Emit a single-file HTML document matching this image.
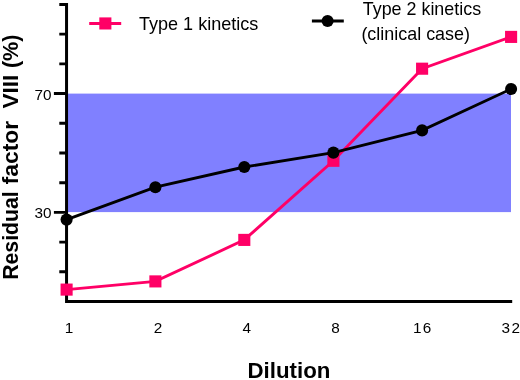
<!DOCTYPE html><html><head><meta charset="utf-8"><title>Chart</title><style>html,body{margin:0;padding:0;background:#fff}svg{display:block}text{font-family:"Liberation Sans",sans-serif;fill:#000}</style></head><body>
<svg width="520" height="380" viewBox="0 0 520 380">
<rect width="520" height="380" fill="#fff"/>
<rect x="66.5" y="93.6" width="444.5" height="118.5" fill="#8080ff"/>
<path d="M66.55 3 V303 M65.05 301.5 H512.2" stroke="#000" stroke-width="3" fill="none"/>
<path d="M59.3 271.80 H66 M59.3 242.09 H66 M53.9 212.38 H66 M59.3 182.68 H66 M59.3 152.97 H66 M59.3 123.27 H66 M53.9 93.56 H66 M59.3 63.86 H66 M59.3 34.16 H66 M59.3 4.45 H66 " stroke="#000" stroke-width="2.9" fill="none"/>
<polyline points="66.6,289.6 155.4,281.4 244.3,239.9 333.4,160.8 422.1,68.7 511.1,36.9" stroke="#ff0066" stroke-width="2.9" fill="none"/>
<rect x="60.55" y="283.55" width="12.1" height="12.1" fill="#ff0066"/>
<rect x="149.35" y="275.35" width="12.1" height="12.1" fill="#ff0066"/>
<rect x="238.25" y="233.85" width="12.1" height="12.1" fill="#ff0066"/>
<rect x="327.35" y="154.75" width="12.1" height="12.1" fill="#ff0066"/>
<rect x="416.05" y="62.65" width="12.1" height="12.1" fill="#ff0066"/>
<rect x="505.05" y="30.85" width="12.1" height="12.1" fill="#ff0066"/>
<polyline points="66.6,219.6 155.4,187.2 244.3,167.0 333.4,152.6 422.1,130.4 511.1,89.0" stroke="#000" stroke-width="2.9" fill="none"/>
<circle cx="66.6" cy="219.6" r="6.05" fill="#000"/>
<circle cx="155.4" cy="187.2" r="6.05" fill="#000"/>
<circle cx="244.3" cy="167.0" r="6.05" fill="#000"/>
<circle cx="333.4" cy="152.6" r="6.05" fill="#000"/>
<circle cx="422.1" cy="130.4" r="6.05" fill="#000"/>
<circle cx="511.1" cy="89.0" r="6.05" fill="#000"/>
<path d="M89.2 23.4 H121.2" stroke="#ff0066" stroke-width="3"/><rect x="99.3" y="17.4" width="12.1" height="12.1" fill="#ff0066"/>
<path d="M311.9 20.9 H343.8" stroke="#000" stroke-width="3"/><circle cx="327.6" cy="20.95" r="6.05" fill="#000"/>
<text id="l1" x="138.9" y="29.8" font-size="17.7" textLength="119.5" lengthAdjust="spacingAndGlyphs">Type 1 kinetics</text>
<text id="l2" x="362.8" y="14.6" font-size="17.7" textLength="118.3" lengthAdjust="spacingAndGlyphs">Type 2 kinetics</text>
<text id="l3" x="361.4" y="39.9" font-size="17.7" textLength="108.6" lengthAdjust="spacingAndGlyphs">(clinical case)</text>
<text id="t70" x="34.5" y="99.6" font-size="15.3">70</text>
<text id="t30" x="34.5" y="218.3" font-size="15.3">30</text>
<text id="x1" x="69.1" y="333" font-size="15.3" text-anchor="middle">1</text>
<text id="x2" x="157.9" y="333" font-size="15.3" text-anchor="middle">2</text>
<text id="x4" x="246.8" y="333" font-size="15.3" text-anchor="middle">4</text>
<text id="x8" x="335.6" y="333" font-size="15.3" text-anchor="middle">8</text>
<text id="x16" x="422.1" y="333" font-size="15.3" text-anchor="middle" textLength="18.4">16</text>
<text id="x32" x="510.8" y="333" font-size="15.3" text-anchor="middle" textLength="18.4">32</text>
<text id="dil" x="247.5" y="377.9" font-size="21.5" font-weight="bold" textLength="82.9" lengthAdjust="spacingAndGlyphs">Dilution</text>
<text id="y0" transform="translate(18.25 279.8) rotate(-90)" font-size="21.8" font-weight="bold" textLength="88.5" lengthAdjust="spacingAndGlyphs">Residual</text>
<text id="y1" transform="translate(18.25 184.5) rotate(-90)" font-size="21.8" font-weight="bold" textLength="63.7" lengthAdjust="spacingAndGlyphs">factor</text>
<text id="y2" transform="translate(18.25 108.6) rotate(-90)" font-size="21.8" font-weight="bold" textLength="34.0" lengthAdjust="spacingAndGlyphs">VIII</text>
<text id="y3" transform="translate(18.25 68.1) rotate(-90)" font-size="21.8" font-weight="bold" textLength="33.6" lengthAdjust="spacingAndGlyphs">(%)</text>
</svg></body></html>
